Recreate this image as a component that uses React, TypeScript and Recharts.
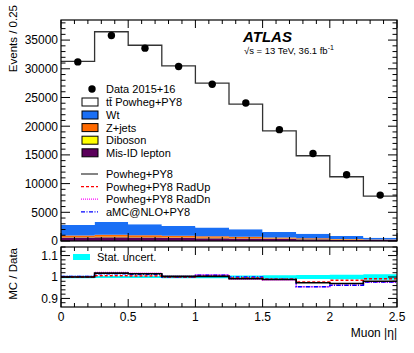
import React from "react";
import { ComposedChart, Area, Line, Scatter, XAxis, YAxis } from "recharts";

// binning in muon |eta|
const binEdges = [0, 0.25, 0.5, 0.75, 1, 1.25, 1.5, 1.75, 2, 2.25, 2.5];
const binCenters = [0.125, 0.375, 0.625, 0.875, 1.125, 1.375, 1.625, 1.875, 2.125, 2.375];

// upper panel: events / 0.25
const dataEvents = [31200, 35800, 33600, 30400, 27300, 24050, 19400, 15250, 11550, 8000];
const ttbar = [28500, 33150, 31200, 27900, 25150, 21800, 17600, 13570, 10320, 7250];
const wt = [1840, 2200, 1915, 1700, 1535, 1330, 970, 805, 505, 322];
const zjets = [300, 380, 320, 290, 260, 220, 180, 140, 110, 80];
const diboson = [60, 70, 65, 60, 55, 50, 40, 35, 25, 18];
const misid = [600, 650, 600, 550, 500, 450, 380, 300, 230, 160];

// lower panel: MC / Data
const ratioPowheg = [1.0, 1.018, 1.015, 1.003, 1.003, 0.992, 0.988, 0.973, 0.97, 0.98];
const ratioRadUp = [1.0, 1.006, 1.005, 1.0, 1.003, 0.995, 0.99, 0.977, 0.985, 0.992];
const ratioRadDn = [1.002, 1.021, 1.018, 1.003, 1.01, 0.99, 0.986, 0.954, 0.961, 0.975];
const ratioAmc = [1.002, 1.015, 1.012, 1.0, 1.008, 1.0, 0.99, 0.955, 0.962, 0.977];
const statUnc = [0.006, 0.005, 0.005, 0.006, 0.006, 0.007, 0.008, 0.009, 0.011, 0.013];

// ticks
const xMajor = [0, 0.5, 1, 1.5, 2, 2.5];
const xTicks = Array.from({ length: 26 }, (_, i) => i / 10);
const yUpperMajor = [0, 5000, 10000, 15000, 20000, 25000, 30000, 35000];
const yUpperTicks = Array.from({ length: 39 }, (_, i) => i * 1000);
const yLowerMajor = [0.9, 1, 1.1];
const yLowerTicks = Array.from({ length: 14 }, (_, i) => Math.round((0.88 + i * 0.02) * 100) / 100);

const PW = 336; // plot width
const PH_UP = 221;
const PH_LO = 60;
const FONT = "'Liberation Sans', Arial, Helvetica, sans-serif";

const nb = binCenters.length;
const upperRows = binEdges.map((x, i) => {
  const k = Math.min(i, nb - 1);
  return {
    x,
    misid: misid[k],
    diboson: diboson[k],
    zjets: zjets[k],
    wt: wt[k],
    ttbar: ttbar[k],
    total: misid[k] + diboson[k] + zjets[k] + wt[k] + ttbar[k],
  };
});
const dataRows = binCenters.map((x, i) => ({ x, events: dataEvents[i] }));
const lowerRows = binEdges.map((x, i) => {
  const k = Math.min(i, nb - 1);
  return {
    x,
    band: [1 - statUnc[k], 1 + statUnc[k]],
    powheg: ratioPowheg[k],
    radup: ratioRadUp[k],
    raddn: ratioRadDn[k],
    amc: ratioAmc[k],
  };
});

const isMajor = (v: number, arr: number[]) => arr.some((m) => Math.abs(m - v) < 1e-6);

const makeXTick = (ph: number, labels: boolean) => (p: any) => {
  const v = p.payload.value;
  const major = isMajor(v, xMajor);
  const len = major ? 8 : 4;
  return (
    <g>
      <line x1={p.x} x2={p.x} y1={p.y} y2={p.y - len} stroke="#000" />
      <line x1={p.x} x2={p.x} y1={p.y - ph} y2={p.y - ph + len} stroke="#000" />
      {labels && major && (
        <text x={p.x} y={p.y + 14} textAnchor="middle" fontSize={12} fontFamily={FONT} fill="#000">
          {v}
        </text>
      )}
    </g>
  );
};

const makeYTick = (majors: number[], bigLen: number, smallLen: number) => (p: any) => {
  const v = p.payload.value;
  const major = isMajor(v, majors);
  const len = major ? bigLen : smallLen;
  return (
    <g>
      <line x1={p.x} x2={p.x + len} y1={p.y} y2={p.y} stroke="#000" />
      <line x1={p.x + PW} x2={p.x + PW - len} y1={p.y} y2={p.y} stroke="#000" />
      {major && (
        <text x={p.x - 3} y={p.y} dy="0.36em" textAnchor="end" fontSize={12} fontFamily={FONT} fill="#000">
          {v}
        </text>
      )}
    </g>
  );
};

const legendBoxes = [
  { label: "Wt", fill: "#1a6ff5" },
  { label: "Z+jets", fill: "#ff6a00" },
  { label: "Diboson", fill: "#ffff00" },
  { label: "Mis-ID lepton", fill: "#5a005a" },
];
const legendLines = [
  { label: "Powheg+PY8", stroke: "#333", dash: undefined },
  { label: "Powheg+PY8 RadUp", stroke: "#ff0000", dash: "3 2" },
  { label: "Powheg+PY8 RadDn", stroke: "#ff00ff", dash: "1 1" },
  { label: "aMC@NLO+PY8", stroke: "#0000ff", dash: "4 1.5 1 1.5" },
];

export default function App() {
  return (
    <div style={{ position: "absolute", left: 0, top: 0, width: 414, height: 353, background: "#fff", fontFamily: FONT }}>
      <style>{`.recharts-surface{overflow:visible}`}</style>
      <ComposedChart width={414} height={244} data={upperRows} margin={{ top: 20, right: 17, bottom: 0, left: 0 }}>
        <Area type="stepAfter" dataKey="misid" stackId="s" fill="#5a005a" fillOpacity={1} stroke="none" isAnimationActive={false} />
        <Area type="stepAfter" dataKey="diboson" stackId="s" fill="#ffff00" fillOpacity={1} stroke="none" isAnimationActive={false} />
        <Area type="stepAfter" dataKey="zjets" stackId="s" fill="#ff6a00" fillOpacity={1} stroke="none" isAnimationActive={false} />
        <Area type="stepAfter" dataKey="wt" stackId="s" fill="#1a6ff5" fillOpacity={1} stroke="none" isAnimationActive={false} />
        <Area type="stepAfter" dataKey="ttbar" stackId="s" fill="#ffffff" fillOpacity={1} stroke="none" isAnimationActive={false} />
        <Line type="stepAfter" dataKey="total" stroke="#333" strokeWidth={1.3} dot={false} isAnimationActive={false} />
        <Scatter
          data={dataRows}
          dataKey="events"
          isAnimationActive={false}
          shape={(p: any) => <circle cx={p.cx} cy={p.cy} r={3.7} fill="#000" />}
        />
        <XAxis
          dataKey="x"
          type="number"
          domain={[0, 2.5]}
          ticks={xTicks}
          interval={0}
          height={3}
          axisLine={false}
          tickSize={0}
          tickMargin={0}
          tick={makeXTick(PH_UP, false)}
          allowDataOverflow
        />
        <YAxis
          type="number"
          domain={[0, 38500]}
          ticks={yUpperTicks}
          interval={0}
          width={61}
          axisLine={false}
          tickSize={0}
          tickMargin={0}
          tick={makeYTick(yUpperMajor, 9, 4.5)}
          allowDataOverflow
        />
      </ComposedChart>
      <ComposedChart width={414} height={109} data={lowerRows} margin={{ top: 3, right: 17, bottom: 0, left: 0 }}>
        <Area type="stepAfter" dataKey="band" fill="#00ffff" fillOpacity={1} stroke="none" isAnimationActive={false} />
        <Line type="stepAfter" dataKey="raddn" stroke="#ff00ff" strokeWidth={1.5} strokeDasharray="1 1" dot={false} isAnimationActive={false} />
        <Line type="stepAfter" dataKey="amc" stroke="#0000ff" strokeWidth={1.5} strokeDasharray="4 1.5 1 1.5" dot={false} isAnimationActive={false} />
        <Line type="stepAfter" dataKey="radup" stroke="#ff0000" strokeWidth={1.5} strokeDasharray="3 2" dot={false} isAnimationActive={false} />
        <Line type="stepAfter" dataKey="powheg" stroke="#000" strokeWidth={1.6} dot={false} isAnimationActive={false} />
        <XAxis
          dataKey="x"
          type="number"
          domain={[0, 2.5]}
          ticks={xTicks}
          interval={0}
          height={46}
          axisLine={false}
          tickSize={0}
          tickMargin={0}
          tick={makeXTick(PH_LO, true)}
          allowDataOverflow
        />
        <YAxis
          type="number"
          domain={[0.86, 1.14]}
          ticks={yLowerTicks}
          interval={0}
          width={61}
          axisLine={false}
          tickSize={0}
          tickMargin={0}
          tick={makeYTick(yLowerMajor, 9, 4.5)}
          allowDataOverflow
        />
      </ComposedChart>

      <svg width={414} height={353} style={{ position: "absolute", left: 0, top: 0, pointerEvents: "none" }} fontFamily={FONT}>
        {/* frames */}
        <rect x={61} y={20} width={PW} height={PH_UP} fill="none" stroke="#000" strokeWidth={1.2} />
        <rect x={61} y={247} width={PW} height={PH_LO} fill="none" stroke="#000" strokeWidth={1.2} />

        {/* axis titles */}
        <text transform="translate(17,5) rotate(-90)" textAnchor="end" fontSize={11.5}>Events / 0.25</text>
        <text transform="translate(17,248) rotate(-90)" textAnchor="end" fontSize={11.5}>MC / Data</text>
        <text x={397} y={337} textAnchor="end" fontSize={12}>Muon |η|</text>

        {/* ATLAS label */}
        <text x={243} y={42} fontSize={15} fontWeight="bold" fontStyle="italic">ATLAS</text>
        <text x={244} y={54} fontSize={9.5}>
          √s = 13 TeV, 36.1 fb<tspan dy={-4} fontSize={7}>-1</tspan>
        </text>

        {/* legend upper */}
        <circle cx={92} cy={89} r={3.7} fill="#000" />
        <text x={106} y={89} dy="0.36em" fontSize={11}>Data 2015+16</text>
        <rect x={82} y={98} width={16} height={8} fill="#fff" stroke="#000" />
        <text x={106} y={102} dy="0.36em" fontSize={11}>tt̄ Powheg+PY8</text>
        {legendBoxes.map((b, i) => (
          <g key={b.label}>
            <rect x={82} y={111 + i * 12.6} width={16} height={8} fill={b.fill} stroke="#000" />
            <text x={106} y={115 + i * 12.6} dy="0.36em" fontSize={11}>{b.label}</text>
          </g>
        ))}
        {legendLines.map((l, i) => (
          <g key={l.label}>
            <line x1={81} x2={98} y1={174 + i * 12.6} y2={174 + i * 12.6} stroke={l.stroke} strokeWidth={1.2} strokeDasharray={l.dash} />
            <text x={106} y={174 + i * 12.6} dy="0.36em" fontSize={11}>{l.label}</text>
          </g>
        ))}

        {/* legend lower */}
        <rect x={73} y={254} width={17} height={6} fill="#00ffff" />
        <text x={97} y={257} dy="0.36em" fontSize={11}>Stat. uncert.</text>
      </svg>
    </div>
  );
}
